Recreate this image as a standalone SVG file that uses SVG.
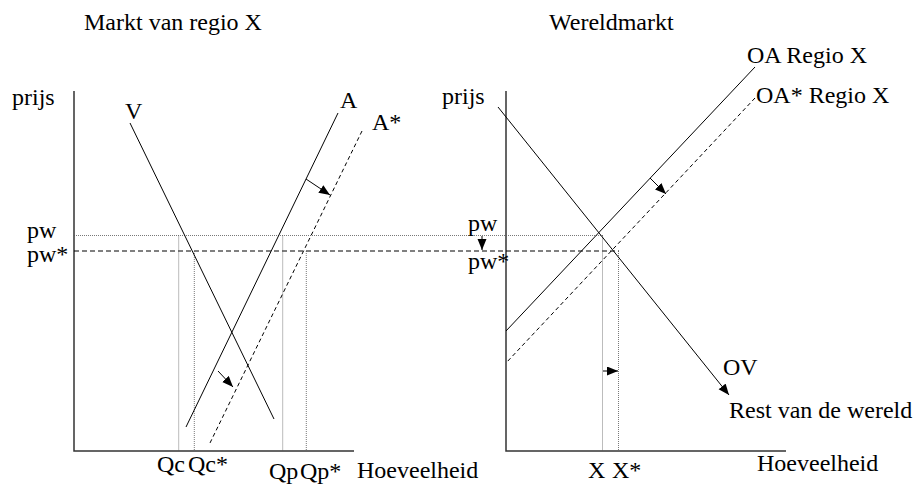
<svg xmlns="http://www.w3.org/2000/svg" width="913" height="484" viewBox="0 0 913 484">
<style>
text{font-family:"Liberation Serif","Times New Roman",serif;font-size:24px;fill:#000}
.axis{fill:none;stroke:#333;stroke-width:1.5}
.curve{fill:none;stroke:#000;stroke-width:1}
.dash{fill:none;stroke:#000;stroke-width:1;stroke-dasharray:4 3}
.hdash{fill:none;stroke:#000;stroke-width:1;stroke-dasharray:5 3}
.dot{fill:none;stroke:#555;stroke-width:0.8;stroke-dasharray:1 1}
.shift{fill:none;stroke:#000;stroke-width:1;marker-end:url(#ah)}
</style>
<defs>
<marker id="ah" markerUnits="userSpaceOnUse" markerWidth="12" markerHeight="10" refX="11" refY="4.5" orient="auto">
<path d="M0,0 L11,4.5 L0,9 Z" fill="#000"/>
</marker>
</defs>
<rect width="913" height="484" fill="#fff"/>
<g id="titles">
<text x="84" y="30">Markt van regio X</text>
<text x="549" y="30">Wereldmarkt</text>
</g>
<g id="left-axes">
<path class="axis" d="M74,91 V451 H354"/>
<text x="12" y="105">prijs</text>
<text x="357" y="478">Hoeveelheid</text>
</g>
<g id="right-axes">
<path class="axis" d="M506,91 V451 H786"/>
<text x="442" y="104">prijs</text>
<text x="757" y="471">Hoeveelheid</text>
</g>
<g id="connectors">
<line class="dot" x1="74" y1="235.5" x2="603" y2="235.5"/>
<line class="hdash" x1="74" y1="251" x2="619" y2="251"/>
<line class="dot" x1="178.7" y1="235.5" x2="178.7" y2="451"/>
<line class="dot" x1="194.3" y1="251" x2="194.3" y2="451"/>
<line class="dot" x1="282.7" y1="235.5" x2="282.7" y2="451"/>
<line class="dot" x1="306.3" y1="251" x2="306.3" y2="451"/>
<line class="dot" x1="602.5" y1="235.5" x2="602.5" y2="451"/>
<line class="dot" x1="618.5" y1="251" x2="618.5" y2="451"/>
<line class="shift" x1="306" y1="179" x2="330" y2="195"/>
<line class="shift" x1="218" y1="371" x2="233" y2="387"/>
<line class="shift" x1="650" y1="178" x2="666" y2="194"/>
<line class="shift" x1="482" y1="236" x2="482" y2="250"/>
<line class="shift" x1="603" y1="371" x2="618" y2="371"/>
</g>
<g id="V">
<line class="curve" x1="130" y1="123" x2="274" y2="419"/>
<text x="125" y="119">V</text>
</g>
<g id="A">
<line class="curve" x1="338" y1="113" x2="186" y2="427"/>
<text x="340" y="108">A</text>
</g>
<g id="A-star">
<line class="dash" x1="362" y1="131" x2="210" y2="443"/>
<text x="372" y="130">A*</text>
</g>
<g id="pw-left">
<text x="27" y="238">pw</text>
<text x="27" y="262">pw*</text>
</g>
<g id="pw-right">
<text x="468" y="231">pw</text>
<text x="468" y="269">pw*</text>
</g>
<g id="q-labels">
<text x="157" y="472">Qc</text>
<text x="188" y="472">Qc*</text>
<text x="269" y="479">Qp</text>
<text x="300" y="479">Qp*</text>
<text x="588" y="478">X</text>
<text x="612" y="478">X*</text>
</g>
<g id="OV">
<line class="curve" x1="498" y1="107" x2="729" y2="395" marker-end="url(#ah)"/>
<text x="723" y="375">OV</text>
<text x="729" y="418">Rest van de wereld</text>
</g>
<g id="OA">
<line class="curve" x1="755" y1="67" x2="506" y2="331"/>
<text x="747" y="63">OA Regio X</text>
</g>
<g id="OA-star">
<line class="dash" x1="755" y1="98" x2="506" y2="363"/>
<text x="756" y="103">OA* Regio X</text>
</g>
</svg>
